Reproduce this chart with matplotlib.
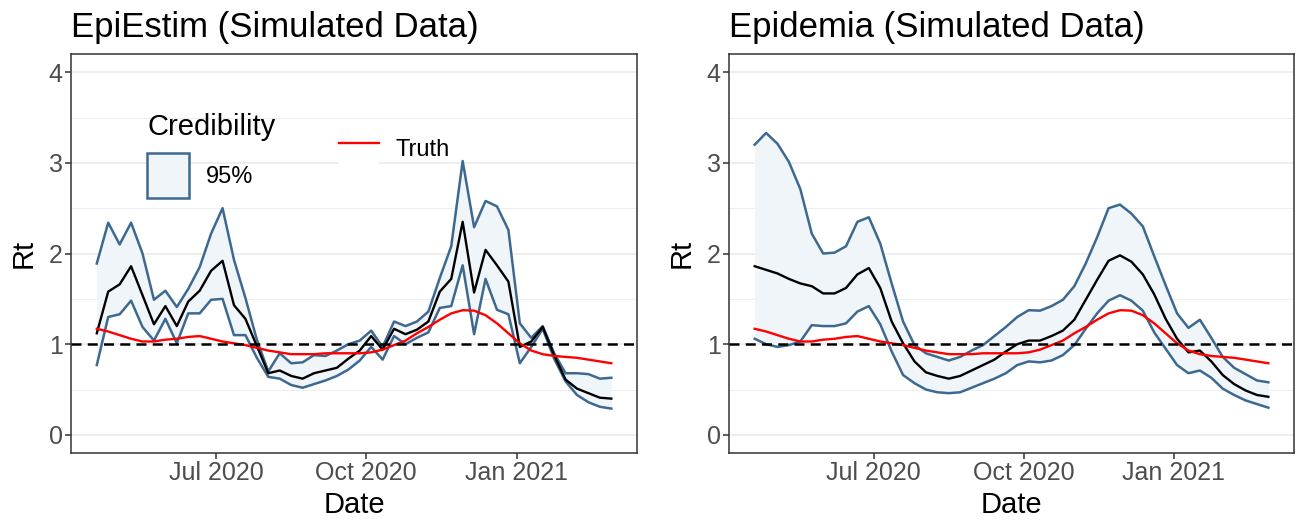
import matplotlib.pyplot as plt
import matplotlib.dates as mdates
import pandas as pd
from matplotlib.patches import Patch
from matplotlib.lines import Line2D
from matplotlib.legend_handler import HandlerTuple

plt.rcParams['font.family'] = ['Liberation Sans', 'DejaVu Sans']

# weekly estimates
dates = pd.date_range('2020-04-19', periods=46, freq='7D')

truth = [1.17, 1.14, 1.10, 1.06, 1.03, 1.03, 1.05, 1.06, 1.08, 1.09,
         1.06, 1.03, 1.01, 0.99, 0.96, 0.93, 0.91, 0.89, 0.89, 0.89,
         0.90, 0.90, 0.90, 0.90, 0.91, 0.94, 0.99, 1.04, 1.12, 1.19,
         1.27, 1.34, 1.375, 1.37, 1.32, 1.23, 1.12, 1.01, 0.93, 0.89,
         0.87, 0.86, 0.85, 0.83, 0.81, 0.79]

epiestim_upper = [1.89, 2.34, 2.10, 2.34, 2.00, 1.49, 1.59, 1.41, 1.61, 1.85,
                  2.22, 2.50, 1.93, 1.51, 1.05, 0.70, 0.90, 0.79, 0.80, 0.88,
                  0.87, 0.93, 1.00, 1.04, 1.15, 0.97, 1.25, 1.20, 1.25, 1.36,
                  1.73, 2.08, 3.02, 2.29, 2.58, 2.52, 2.26, 1.23, 1.07, 1.20,
                  0.90, 0.68, 0.68, 0.67, 0.62, 0.63]
epiestim_median = [1.12, 1.58, 1.66, 1.86, 1.54, 1.22, 1.42, 1.20, 1.47, 1.59,
                   1.81, 1.92, 1.43, 1.28, 0.98, 0.68, 0.71, 0.65, 0.62, 0.68,
                   0.71, 0.74, 0.84, 0.93, 1.09, 0.94, 1.17, 1.11, 1.16, 1.25,
                   1.58, 1.72, 2.35, 1.57, 2.04, 1.87, 1.69, 0.97, 1.03, 1.19,
                   0.88, 0.61, 0.51, 0.46, 0.41, 0.40]
epiestim_lower = [0.77, 1.30, 1.33, 1.48, 1.19, 1.04, 1.28, 1.01, 1.34, 1.34,
                  1.49, 1.50, 1.10, 1.10, 0.85, 0.64, 0.62, 0.55, 0.52, 0.56,
                  0.60, 0.65, 0.72, 0.82, 0.97, 0.83, 1.09, 1.00, 1.07, 1.13,
                  1.40, 1.42, 1.87, 1.11, 1.72, 1.38, 1.33, 0.79, 0.97, 1.17,
                  0.84, 0.59, 0.44, 0.36, 0.31, 0.29]

epidemia_upper = [3.20, 3.33, 3.21, 3.01, 2.71, 2.22, 2.00, 2.01, 2.08, 2.35,
                  2.40, 2.11, 1.67, 1.25, 0.99, 0.90, 0.86, 0.82, 0.86, 0.93,
                  0.99, 1.09, 1.19, 1.30, 1.375, 1.37, 1.42, 1.49, 1.64, 1.89,
                  2.18, 2.50, 2.54, 2.44, 2.30, 1.97, 1.65, 1.34, 1.18, 1.27,
                  1.07, 0.86, 0.74, 0.67, 0.60, 0.58]
epidemia_median = [1.86, 1.82, 1.78, 1.72, 1.67, 1.64, 1.56, 1.56, 1.62, 1.77,
                   1.84, 1.62, 1.25, 1.01, 0.81, 0.69, 0.65, 0.62, 0.65, 0.71,
                   0.77, 0.83, 0.92, 1.00, 1.04, 1.04, 1.09, 1.15, 1.27, 1.49,
                   1.71, 1.92, 1.98, 1.91, 1.77, 1.55, 1.28, 1.06, 0.91, 0.93,
                   0.81, 0.66, 0.56, 0.49, 0.44, 0.42]
epidemia_lower = [1.06, 1.00, 0.97, 0.99, 1.03, 1.21, 1.20, 1.20, 1.23, 1.36,
                  1.42, 1.22, 0.92, 0.66, 0.57, 0.50, 0.47, 0.46, 0.47, 0.52,
                  0.57, 0.62, 0.68, 0.77, 0.81, 0.80, 0.82, 0.88, 0.99, 1.17,
                  1.34, 1.48, 1.54, 1.48, 1.37, 1.13, 0.95, 0.77, 0.68, 0.71,
                  0.63, 0.51, 0.44, 0.38, 0.34, 0.30]

edge_col = '#3D6990'
fill_col = '#F0F5FA'


def draw_panel(ax, lower, median, upper, title):
    ax.fill_between(dates, lower, upper, color=fill_col, lw=0, zorder=2)
    ax.plot(dates, lower, color=edge_col, lw=1.8, zorder=3)
    ax.plot(dates, upper, color=edge_col, lw=1.8, zorder=3)
    ax.plot(dates, median, color='black', lw=1.7, zorder=4)
    ax.plot(dates, truth, color='red', lw=1.7, zorder=5)
    ax.axhline(1, color='black', lw=1.8, ls=(0, (4, 2.5)), zorder=6)

    span = dates[-1] - dates[0]
    ax.set_xlim(dates[0] - span * 0.05, dates[-1] + span * 0.05)
    ax.set_ylim(-0.2, 4.2)
    ax.set_yticks([0, 1, 2, 3, 4])
    ax.set_yticks([0.5, 1.5, 2.5, 3.5], minor=True)
    ax.set_xticks(pd.to_datetime(['2020-07-01', '2020-10-01', '2021-01-01']))
    ax.xaxis.set_major_formatter(mdates.DateFormatter('%b %Y'))
    ax.grid(axis='y', which='major', color='#EBEBEB', lw=1.2, zorder=0)
    ax.grid(axis='y', which='minor', color='#EBEBEB', lw=0.6, zorder=0)
    ax.tick_params(axis='both', which='major', length=4, width=1.1,
                   color='#333333', labelcolor='#4D4D4D', labelsize=18,
                   pad=2)
    ax.tick_params(axis='y', which='minor', length=0)
    for s in ax.spines.values():
        s.set_color('#333333')
        s.set_linewidth(1.1)
    ax.set_xlabel('Date', fontsize=21, labelpad=4)
    ax.set_ylabel('Rt', fontsize=21, labelpad=8)
    ax.set_title(title, loc='left', fontsize=25, pad=12)


fig = plt.figure(figsize=(12.99, 5.23), dpi=100)
ax1 = fig.add_axes([0.0547, 0.1338, 0.4357, 0.7629])
ax2 = fig.add_axes([0.5612, 0.1338, 0.4350, 0.7629])

draw_panel(ax1, epiestim_lower, epiestim_median, epiestim_upper,
           'EpiEstim (Simulated Data)')
draw_panel(ax2, epidemia_lower, epidemia_median, epidemia_upper,
           'Epidemia (Simulated Data)')

# legends (inside the left panel)
cred = ax1.legend(handles=[Patch(facecolor=fill_col, edgecolor=edge_col, lw=1.8)],
                  labels=['95%'], title='Credibility', frameon=False,
                  loc='upper left', bbox_to_anchor=(0.097, 0.905),
                  fontsize=17, title_fontsize=21, handlelength=1.78,
                  handleheight=2.56, handletextpad=0.7, alignment='left')
ax1.add_artist(cred)
truth_handle = (Patch(facecolor='white', edgecolor='none'),
                Line2D([], [], color='red', lw=1.7))
ax1.legend(handles=[truth_handle], labels=['Truth'], frameon=False,
           loc='center left', bbox_to_anchor=(0.436, 0.764), fontsize=17,
           handlelength=1.7, handleheight=2.0, handletextpad=0.7,
           handler_map={tuple: HandlerTuple(ndivide=1, pad=0)})

fig.savefig('out.png', dpi=100)
